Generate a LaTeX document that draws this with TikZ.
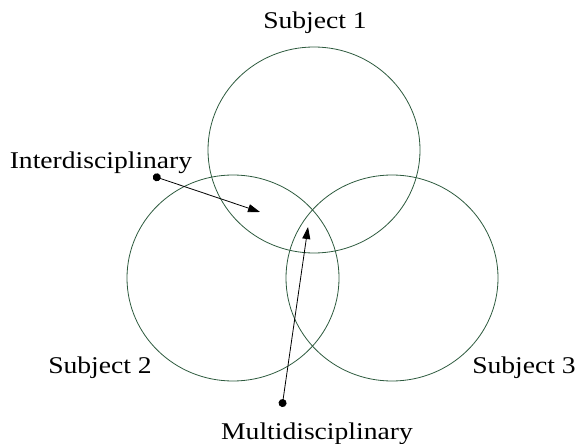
\documentclass[tikz,border=0pt]{standalone}
\usepackage{fontspec}
\setmainfont{Liberation Serif}[FakeStretch=1.15]
\usetikzlibrary{arrows.meta}
\definecolor{venngreen}{RGB}{45,90,62}
\tikzset{
  venn/.style={draw=venngreen, line width=0.8pt},
  lbl/.style={anchor=base, inner sep=0pt, font=\fontsize{24}{28}\selectfont},
  pointer/.style={line width=0.8pt, {Circle[length=8pt]}-{Triangle[length=12pt,width=8pt]}}
}
\begin{document}
\begin{tikzpicture}[x=1pt,y=-1pt]
        \useasboundingbox (0,0) rectangle (578,444);
        \draw[venn] (314,150) ellipse [x radius=106, y radius=103];
        \draw[venn] (233,278) ellipse [x radius=106, y radius=103];
        \draw[venn] (392,278) ellipse [x radius=106, y radius=103];
        \node[lbl] (subj1) at (315,29) {Subject 1};
        \node[lbl] (subj2) at (100,373) {Subject 2};
        \node[lbl] (subj3) at (524,373) {Subject 3};
        \node[lbl] (inter) at (101,168) {Interdisciplinary};
        \node[lbl] (multi) at (317,439) {Multidisciplinary};
        \coordinate (interdot) at (153,176);
        \coordinate (intertip) at (260,212);
        \coordinate (multidot) at (282,407);
        \coordinate (multitip) at (308,227);
        \draw[pointer] (interdot) -- (intertip);
        \draw[pointer] (multidot) -- (multitip);
    \end{tikzpicture}
\end{document}
